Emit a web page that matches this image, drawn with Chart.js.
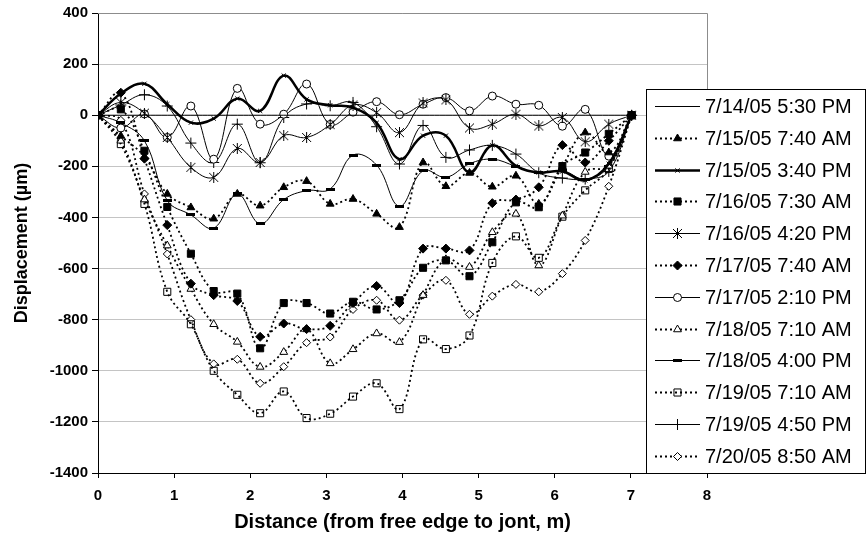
<!DOCTYPE html>
<html>
<head>
<meta charset="utf-8">
<script src="https://cdn.jsdelivr.net/npm/chart.js@4.4.1/dist/chart.umd.min.js"></script>
<style>
  body { margin: 0; background: #fff; }
  #wrap { width: 867px; height: 544px; }
</style>
</head>
<body>
<div id="wrap"><canvas id="chart" width="867" height="544"></canvas></div>
<script>
// gauge positions along the slab (m), one every foot
const distance = [0, 0.30, 0.61, 0.91, 1.22, 1.52, 1.83, 2.13, 2.44, 2.74, 3.05, 3.35,
                  3.66, 3.96, 4.27, 4.57, 4.88, 5.18, 5.49, 5.79, 6.10, 6.40, 6.71, 7.01];

const seriesLabels = [
    '7/14/05 5:30 PM', '7/15/05 7:40 AM', '7/15/05 3:40 PM', '7/16/05 7:30 AM',
    '7/16/05 4:20 PM', '7/17/05 7:40 AM', '7/17/05 2:10 PM', '7/18/05 7:10 AM',
    '7/18/05 4:00 PM', '7/19/05 7:10 AM', '7/19/05 4:50 PM', '7/20/05 8:50 AM'
];

// displacement readings (µm)
const jul14_530pm = [0, 0, 0, 0, 0, 0, 0, 0, 0, 0, 0, 0, 0, 0, 0, 0, 0, 0, 0, 0, 0, 0, 0, 0];
const jul15_740am = [0, -81, -162, -308, -361, -405, -308, -354, -282, -258, -347, -328,
                     -386, -438, -185, -278, -226, -280, -237, -347, -200, -68, -146, 0];
const jul15_340pm = [0, 85, 123, 43, -29, -13, 65, 17, 155, 62, 39, 30,
                     -30, -172, -80, -80, -224, -118, -198, -224, -220, -255, -190, 0];
const jul16_730am = [0, 23, -139, -359, -542, -688, -698, -912, -735, -735, -776, -730,
                     -760, -724, -597, -568, -630, -497, -341, -360, -199, -146, -73, 0];
const jul16_420pm = [0, 50, 8, -87, -204, -243, -130, -185, -80, -87, -37, 40,
                     10, -68, 48, 60, -50, -35, 4, -42, -9, -104, -35, 0];
const jul17_740am = [0, 88, -170, -430, -659, -704, -727, -867, -815, -837, -824, -735,
                     -668, -735, -522, -522, -529, -344, -330, -282, -117, -185, -100, 0];
const jul17_210pm = [0, -50, 5, -87, 36, -172, 105, -35, 4, 122, -36, 12,
                     53, 2, 43, 69, 17, 75, 43, 39, -43, 23, -160, 0];
const jul18_710am = [0, -100, -330, -510, -680, -818, -887, -985, -927, -838, -971, -916,
                     -854, -888, -704, -564, -594, -458, -386, -588, -393, -222, -198, 0];
const jul18_400pm = [0, -30, -100, -334, -390, -442, -308, -425, -330, -295, -289, -156,
                     -195, -356, -217, -243, -190, -172, -200, -226, -217, -250, -200, 0];
const jul19_710am = [0, -113, -347, -691, -818, -1000, -1094, -1166, -1081, -1185, -1168, -1101,
                     -1049, -1150, -877, -915, -862, -578, -474, -558, -397, -294, -210, 0];
const jul19_450pm = [0, 40, 80, 36, -109, -185, -35, -186, -9, 44, 37, 50,
                     -45, -191, -40, -165, -136, -118, -152, -225, -246, -250, -220, 0];
const jul20_850am = [0, -20, -308, -543, -800, -973, -955, -1049, -984, -890, -868, -760,
                     -724, -802, -704, -646, -779, -708, -662, -691, -620, -490, -278, 0];

const xTicks = [0, 1, 2, 3, 4, 5, 6, 7, 8];
const yTicks = [-1400, -1200, -1000, -800, -600, -400, -200, 0, 200, 400];

// small canvases for the markers Chart.js has no style for
function makeMarker(w, h, draw) {
    const c = document.createElement('canvas');
    c.width = w;
    c.height = h;
    draw(c.getContext('2d'));
    return c;
}
const asterisk = makeMarker(11, 11, g => {
    g.strokeStyle = '#000';
    g.lineWidth = 1;
    g.beginPath();
    g.moveTo(5.5, 0); g.lineTo(5.5, 11);
    g.moveTo(1, 1); g.lineTo(10, 10);
    g.moveTo(10, 1); g.lineTo(1, 10);
    g.stroke();
});
const dashMark = makeMarker(9, 3, g => {
    g.fillStyle = '#000';
    g.fillRect(0, 0, 9, 3);
});

const dotted = [2, 3];

function serie(label, values, style) {
    return Object.assign({
        label: label,
        data: values.map((v, i) => ({ x: distance[i], y: v })),
        borderColor: '#000',
        borderWidth: 1,
        pointBorderColor: '#000',
        pointBorderWidth: 1,
        pointBackgroundColor: '#000',
        tension: 0.4,
        fill: false
    }, style);
}

const datasets = [
    serie(seriesLabels[0], jul14_530pm, { pointRadius: 0, pointStyle: false }),
    serie(seriesLabels[1], jul15_740am, { borderDash: dotted, borderWidth: 1.8, pointStyle: 'triangle', pointRadius: 4.5 }),
    serie(seriesLabels[2], jul15_340pm, { borderWidth: 2.5, pointStyle: 'crossRot', pointRadius: 3 }),
    serie(seriesLabels[3], jul16_730am, { borderDash: dotted, borderWidth: 1.8, pointStyle: 'rect', pointRadius: 5 }),
    serie(seriesLabels[4], jul16_420pm, { pointStyle: asterisk, pointRadius: 5 }),
    serie(seriesLabels[5], jul17_740am, { borderDash: dotted, borderWidth: 1.8, pointStyle: 'rectRot', pointRadius: 4.5 }),
    serie(seriesLabels[6], jul17_210pm, { pointStyle: 'circle', pointRadius: 4, pointBackgroundColor: '#fff' }),
    serie(seriesLabels[7], jul18_710am, { borderDash: dotted, borderWidth: 1.8, pointStyle: 'triangle', pointRadius: 4.5, pointBackgroundColor: '#fff' }),
    serie(seriesLabels[8], jul18_400pm, { pointStyle: dashMark, pointRadius: 4 }),
    serie(seriesLabels[9], jul19_710am, { borderDash: dotted, borderWidth: 1.8, pointStyle: 'rect', pointRadius: 5, pointBackgroundColor: 'rgba(255,255,255,0)' }),
    serie(seriesLabels[10], jul19_450pm, { pointStyle: 'cross', pointRadius: 5.5 }),
    serie(seriesLabels[11], jul20_850am, { borderDash: dotted, borderWidth: 1.8, pointStyle: 'rectRot', pointRadius: 4, pointBackgroundColor: '#fff' })
];

// grey frame on top/right of the plot, and the boxed legend over the right edge
const frameAndLegend = {
    id: 'frameAndLegend',
    beforeDatasetsDraw(chart) {
        const { ctx, chartArea: a } = chart;
        ctx.save();
        ctx.strokeStyle = '#8c8c8c';
        ctx.lineWidth = 1;
        ctx.beginPath();
        ctx.moveTo(a.left, a.top + 0.5);
        ctx.lineTo(a.right + 0.5, a.top + 0.5);
        ctx.lineTo(a.right + 0.5, a.bottom);
        ctx.stroke();
        ctx.restore();
    },
    afterDraw(chart) {
        const ctx = chart.ctx;
        const drawPoint = Chart.helpers && Chart.helpers.drawPoint;
        ctx.save();
        ctx.fillStyle = '#fff';
        ctx.fillRect(646, 89, 220, 385);
        ctx.strokeStyle = '#000';
        ctx.lineWidth = 1;
        ctx.strokeRect(646.5, 89.5, 219, 384);
        chart.data.datasets.forEach((ds, i) => {
            const y = Math.round(106 + i * 31.8) + 0.5;
            ctx.strokeStyle = '#000';
            ctx.setLineDash(ds.borderDash || []);
            ctx.lineWidth = ds.borderWidth;
            ctx.beginPath();
            ctx.moveTo(655, y);
            ctx.lineTo(700, y);
            ctx.stroke();
            ctx.setLineDash([]);
            if (ds.pointStyle && drawPoint) {
                ctx.fillStyle = ds.pointBackgroundColor;
                ctx.lineWidth = 1;
                drawPoint(ctx, { pointStyle: ds.pointStyle, radius: ds.pointRadius, rotation: 0, borderWidth: 1 }, 677.5, y);
            }
            ctx.fillStyle = '#000';
            ctx.font = '20px "Liberation Sans", Arial, sans-serif';
            ctx.textBaseline = 'middle';
            ctx.fillText(ds.label, 705, y + 1);
        });
        ctx.restore();
    }
};

const tickFont = { family: '"Liberation Sans", Arial, sans-serif', size: 15, weight: 'bold' };

new Chart(document.getElementById('chart').getContext('2d'), {
    type: 'line',
    data: { datasets: datasets },
    options: {
        responsive: false,
        animation: false,
        layout: { padding: { left: 0, right: 160, top: 12, bottom: 5 } },
        plugins: {
            legend: { display: false },
            tooltip: { enabled: false }
        },
        scales: {
            x: {
                type: 'linear',
                min: 0,
                max: 8,
                afterBuildTicks: s => { s.ticks = xTicks.map(v => ({ value: v })); },
                afterFit: s => { s.height = 66; },
                grid: { drawOnChartArea: false, drawTicks: true, tickLength: 5, tickColor: '#000' },
                border: { display: true, color: '#000', width: 1 },
                ticks: { color: '#000', font: tickFont, padding: 9, maxRotation: 0, callback: v => String(v) },
                title: {
                    display: true,
                    text: 'Distance (from free edge to jont, m)',
                    color: '#000',
                    font: { family: '"Liberation Sans", Arial, sans-serif', size: 20, weight: 'bold' },
                    padding: { top: 0, bottom: 5 }
                }
            },
            y: {
                type: 'linear',
                min: -1400,
                max: 400,
                afterBuildTicks: s => { s.ticks = yTicks.map(v => ({ value: v })); },
                afterFit: s => { s.width = 98; },
                grid: { color: '#c4c4c4', tickColor: '#000', tickLength: 6 },
                border: { display: true, color: '#000', width: 1 },
                ticks: { color: '#000', font: tickFont, padding: 4, callback: v => String(v) },
                title: {
                    display: true,
                    text: 'Displacement (µm)',
                    color: '#000',
                    font: { family: '"Liberation Sans", Arial, sans-serif', size: 18, weight: 'bold' },
                    padding: { top: 11, bottom: 0 }
                }
            }
        }
    },
    plugins: [frameAndLegend]
});
</script>
</body>
</html>
